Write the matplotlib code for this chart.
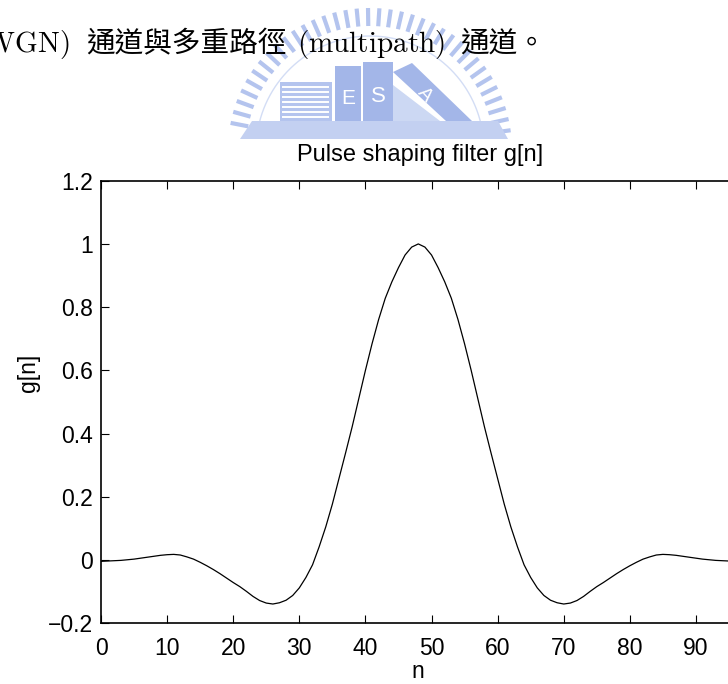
import numpy as np
import matplotlib
matplotlib.use("Agg")
import matplotlib.pyplot as plt
from matplotlib.patches import Rectangle, Polygon

plt.rcParams['font.family'] = ['Liberation Sans', 'DejaVu Sans']
plt.rcParams['mathtext.fontset'] = 'cm'

# ---- pulse shaping filter taps ----
n = list(range(97))
g = [-0.004, -0.003, -0.002, -0.001, 0.001, 0.003, 0.006, 0.009, 0.012, 0.015,
     0.017, 0.018, 0.016, 0.010, 0.003, -0.007, -0.018, -0.030, -0.043, -0.057,
     -0.071, -0.084, -0.099, -0.115, -0.128, -0.136, -0.139, -0.135, -0.127, -0.112,
     -0.088, -0.055, -0.015, 0.042, 0.105, 0.177, 0.258, 0.339, 0.422, 0.511,
     0.600, 0.684, 0.761, 0.828, 0.880, 0.925, 0.965, 0.990, 1.000,
     0.990, 0.965, 0.925, 0.880, 0.828, 0.761, 0.684, 0.600, 0.511, 0.422,
     0.339, 0.258, 0.177, 0.105, 0.042, -0.015, -0.055, -0.088, -0.112, -0.127,
     -0.135, -0.139, -0.136, -0.128, -0.115, -0.099, -0.084, -0.071, -0.057, -0.043,
     -0.030, -0.018, -0.007, 0.003, 0.010, 0.016, 0.018, 0.017, 0.015, 0.012,
     0.009, 0.006, 0.003, 0.001, -0.001, -0.002, -0.003, -0.004]

x_ticks = [0, 10, 20, 30, 40, 50, 60, 70, 80, 90]
y_ticks = [-0.2, 0.0, 0.2, 0.4, 0.6, 0.8, 1.0, 1.2]
y_tick_labels = ['\u22120.2', '0', '0.2', '0.4', '0.6', '0.8', '1', '1.2']
title_text = 'Pulse shaping filter g[n]'
x_label = 'n'
y_label = 'g[n]'

W, H = 728, 684
fig = plt.figure(figsize=(W / 100, H / 100), dpi=100)
fig.patch.set_facecolor('white')

# ---- page layer in pixel coordinates ----
page = fig.add_axes([0, 0, 1, 1], zorder=0)
page.set_xlim(0, W)
page.set_ylim(H, 0)
page.axis('off')

# faint university logo watermark
wm = '#b4c4ee'
wm_dark = '#a3b6e8'
cx, cy = 370, 150
for ang in np.arange(8, 173, 4.6):
    a = np.deg2rad(ang)
    r1, r2 = 124, 142
    page.plot([cx + r1 * np.cos(a), cx + r2 * np.cos(a)],
              [cy - r1 * np.sin(a), cy - r2 * np.sin(a)],
              color=wm, lw=3.0, solid_capstyle='butt', zorder=1)
arc = np.linspace(np.deg2rad(8), np.deg2rad(172), 200)
page.plot(cx + 114 * np.cos(arc), cy - 114 * np.sin(arc), color='#d3ddf5', lw=1.0, zorder=1)

page.add_patch(Polygon([(240, 139), (252, 121), (498, 121), (508, 139)],
                       closed=True, facecolor='#c3d0f1', edgecolor='none', zorder=1))
page.add_patch(Rectangle((280, 82), 52, 39, facecolor=wm, edgecolor='none', zorder=1))
for yy in range(87, 120, 5):
    page.plot([283, 328], [yy, yy], color='white', lw=1.4, zorder=1.1)
page.add_patch(Rectangle((335, 66), 26, 55, facecolor=wm_dark, edgecolor='none', zorder=1))
page.add_patch(Rectangle((363, 62), 30, 59, facecolor=wm_dark, edgecolor='none', zorder=1))
page.add_patch(Polygon([(393, 72), (412, 63), (472, 121), (446, 121)],
                       closed=True, facecolor=wm_dark, edgecolor='none', zorder=1))
page.add_patch(Polygon([(393, 121), (393, 85), (440, 121)],
                       closed=True, facecolor='#ccd8f3', edgecolor='none', zorder=1))
page.text(348, 98, 'E', color='white', fontsize=15, ha='center', va='center', zorder=1.2)
page.text(378, 97, 'S', color='white', fontsize=16, ha='center', va='center', zorder=1.2)
page.text(425, 95, 'A', color='white', fontsize=14, ha='center', va='center',
          rotation=-48, zorder=1.2)

# the figure region hides the lower part of the logo
page.add_patch(Rectangle((0, 139), W, H - 139, facecolor='white', edgecolor='none', zorder=2))

# paragraph line above the figure
base = 52
cjk = ['Noto Sans CJK TC', 'DejaVu Sans']
page.text(70, base, r'$\mathrm{AWGN)}$', fontsize=21, ha='right', va='baseline', zorder=5)
page.text(86, base, '通道與多重路徑', fontsize=20.6, family=cjk, ha='left', va='baseline', zorder=5)
page.text(297, base, r'$\mathrm{(multipath)}$', fontsize=21, ha='left', va='baseline', zorder=5)
page.text(460, base, '通道。', fontsize=20.6, family=cjk, ha='left', va='baseline', zorder=5)

# ---- plot axes ----
left, right, top, bottom = 101, 735.6, 180.7, 623.3
ax = fig.add_axes([left / W, (H - bottom) / H, (right - left) / W, (bottom - top) / H], zorder=3)
ax.plot(n, g, color='black', lw=0.9, solid_joinstyle='round')
ax.set_xlim(0, 96)
ax.set_ylim(-0.2, 1.2)
ax.set_xticks(x_ticks)
ax.set_xticklabels([str(t) for t in x_ticks])
ax.set_yticks(y_ticks)
ax.set_yticklabels(y_tick_labels)
ax.tick_params(axis='both', direction='in', length=5.5, width=0.8,
               top=True, right=True, labelsize=16.5, colors='black')
ax.tick_params(axis='x', pad=10)
ax.tick_params(axis='y', pad=5.5)
for sp in ax.spines.values():
    sp.set_linewidth(1.2)

fig.text(420 / W, 1 - 161 / H, title_text, fontsize=17, ha='center', va='baseline')
fig.text(418 / W, 1 - 672 / H, x_label, fontsize=16.5, ha='center', va='center')
fig.text(28.5 / W, 1 - 372.5 / H, y_label, fontsize=16.5, ha='center', va='center', rotation=90)

fig.savefig('out.png', dpi=100, facecolor='white')
